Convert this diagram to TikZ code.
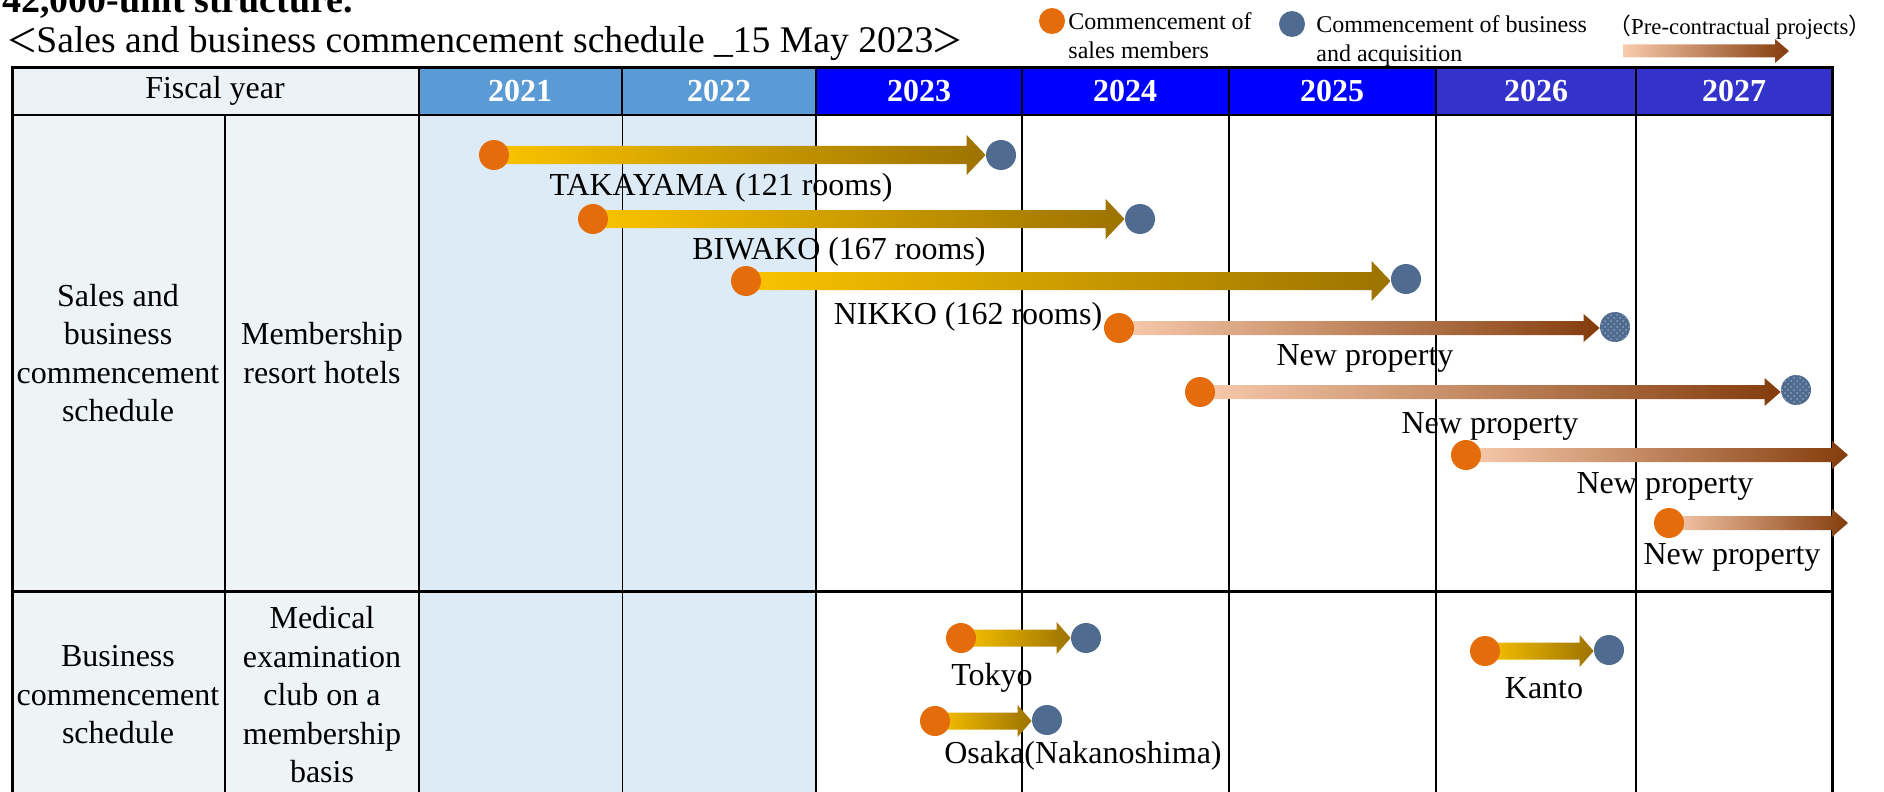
\documentclass[tikz,border=0pt]{standalone}
\usepackage{fontspec}
\setmainfont{Liberation Serif}
\newfontfamily\cjk{Noto Sans CJK SC}
\usetikzlibrary{calc,patterns}
\definecolor{fyfill}{HTML}{EDF2F6}
\definecolor{lblfill}{HTML}{EEF3F6}
\definecolor{oldhead}{HTML}{5B9BD5}
\definecolor{oldbody}{HTML}{DDEBF7}
\definecolor{curhead}{HTML}{0000FF}
\definecolor{futhead}{HTML}{3333CC}
\definecolor{dotorange}{HTML}{E46C0A}
\definecolor{dotblue}{HTML}{4F6B8F}
\definecolor{goldA}{HTML}{FAC300}
\definecolor{goldB}{HTML}{9C7300}
\definecolor{peachA}{HTML}{F8CBAD}
\definecolor{peachB}{HTML}{843C0C}
\pgfdeclarelayer{tablelayer}
\pgfdeclarelayer{arrowlayer}
\pgfsetlayers{tablelayer,arrowlayer,main}
\newcommand\grarrow[6]{%
  \path[#6] let \p1=(#1.center), \p2=(#2) in
    (\x1,{\y1+#3}) -- ({\x2-#5},{\y1+#3}) -- ({\x2-#5},{\y1+#4}) -- (\x2,\y1)
    -- ({\x2-#5},{\y1-#4}) -- ({\x2-#5},{\y1-#3}) -- (\x1,{\y1-#3}) -- cycle;}
\begin{document}
\begin{tikzpicture}[x=0.5pt,y=-0.5pt,
  lbl/.style={font=\fontsize{16}{19.25}\selectfont, inner sep=0, align=center},
  lgtxt/.style={font=\fontsize{12}{14.5}\selectfont, inner sep=0, align=left},
  yr/.style={font=\bfseries\fontsize{16}{19}\selectfont, text=white, inner sep=0},
  odot/.style={circle, fill=dotorange, minimum size=15pt, inner sep=0},
  bdot/.style={circle, fill=dotblue, minimum size=15pt, inner sep=0},
  hdot/.style={circle, fill=dotblue, minimum size=15pt, inner sep=0,
     postaction={pattern=crosshatch dots, pattern color=white!35!dotblue}},
  gold/.style={left color=goldA, right color=goldB},
  peach/.style={left color=peachA, right color=peachB},
  frame/.style={line width=1.5pt, black},
  inner/.style={line width=1pt, black},
  thin/.style={line width=0.5pt, black}]
\useasboundingbox (0,0) rectangle (1884,792);

% ---------- table ----------
\begin{pgfonlayer}{tablelayer}
\fill[fyfill] (12,68) rectangle (419,115);
\fill[oldhead] (419,68) rectangle (816,115);
\fill[curhead] (816,68) rectangle (1436,115);
\fill[futhead] (1436,68) rectangle (1832,115);
\fill[lblfill] (12,115) rectangle (419,792);
\fill[oldbody] (419,115) rectangle (816,792);
\draw[inner] (419,68) -- (419,792);
\draw[inner] (622,68) -- (622,115);
\draw[thin] (622,115) -- (622,792);
\foreach \xx in {816,1022,1229,1436,1636} \draw[inner] (\xx,68) -- (\xx,792);
\draw[inner] (225,115) -- (225,792);
\draw[inner] (12,115) -- (1832,115);
\draw[line width=1.5pt] (12,591) -- (1832,591);
\draw[frame] (12,792) -- (12,68) -- (1832,68) -- (1832,792);
\end{pgfonlayer}

% ---------- titles ----------
\node[anchor=base west, inner sep=0, font=\bfseries\fontsize{19}{22}\selectfont] (title) at (2,13) {42,000-unit structure.};
\node[anchor=base west, inner sep=0, font=\fontsize{18.8}{22}\selectfont] (sub) at (6,53) {{\cjk\fontsize{16}{20}\selectfont ＜}\kern-1pt Sales and business commencement schedule \_15 May 2023\kern-1pt{\cjk\fontsize{16}{20}\selectfont ＞}};

% ---------- legend ----------
\node[circle, fill=dotorange, minimum size=13pt, inner sep=0] (lg1) at (1052,21) {};
\node[lgtxt, anchor=west] (lgt1) at (1068,36) {Commencement of\\sales members};
\node[circle, fill=dotblue, minimum size=13pt, inner sep=0] (lg2) at (1292,24) {};
\node[lgtxt, anchor=west] (lgt2) at (1316,41) {Commencement of business\\and acquisition};
\node[lgtxt, anchor=west, font=\fontsize{11.4}{14}\selectfont] (lgt3) at (1608,27) {{\cjk （}Pre-contractual projects{\cjk ）}};
\coordinate (lgA) at (1623,51);
\coordinate (lgB) at (1789,51);

% ---------- header texts ----------
\node[lbl] (fy) at (215,91) {Fiscal year};
\node[yr] (y21) at (520,91) {2021};
\node[yr] (y22) at (719,91) {2022};
\node[yr] (y23) at (919,91) {2023};
\node[yr] (y24) at (1125,91) {2024};
\node[yr] (y25) at (1332,91) {2025};
\node[yr] (y26) at (1536,91) {2026};
\node[yr] (y27) at (1734,91) {2027};

% ---------- row labels ----------
\node[lbl] (r1a) at (118,353) {Sales and\\business\\commencement\\schedule};
\node[lbl] (r1b) at (322,353) {Membership\\resort hotels};
\node[lbl] (r2a) at (118,695) {Business\\commencement\\schedule};
\node[lbl] (r2b) at (322,695) {Medical\\examination\\club on a\\membership\\basis};

% ---------- dots ----------
\node[odot] (o1) at (494,155) {};
\node[bdot] (b1) at (1001,155) {};
\node[odot] (o2) at (593,219) {};
\node[bdot] (b2) at (1140,219) {};
\node[odot] (o3) at (746,281) {};
\node[bdot] (b3) at (1406,279) {};
\node[odot] (o4) at (1119,328) {};
\node[hdot] (b4) at (1615,327) {};
\node[odot] (o5) at (1200,392) {};
\node[hdot] (b5) at (1796,390) {};
\node[odot] (o6) at (1466,455) {};
\coordinate (e6) at (1848,455);
\node[odot] (o7) at (1669,523) {};
\coordinate (e7) at (1848,523);
\node[odot] (o8) at (961,638) {};
\node[bdot] (b8) at (1086,638) {};
\node[odot] (o9) at (935,721) {};
\node[bdot] (b9) at (1047,720) {};
\node[odot] (o10) at (1485,651) {};
\node[bdot] (b10) at (1609,650) {};

% ---------- arrows ----------
\begin{pgfonlayer}{arrowlayer}
\grarrow{o1}{b1.west}{4.5pt}{10pt}{9.5pt}{gold}
\grarrow{o2}{b2.west}{4.5pt}{10pt}{9.5pt}{gold}
\grarrow{o3}{b3.west}{4.5pt}{10pt}{9.5pt}{gold}
\grarrow{o4}{b4.west}{3.5pt}{7pt}{8pt}{peach}
\grarrow{o5}{b5.west}{3.5pt}{7pt}{8pt}{peach}
\grarrow{o6}{e6}{3.5pt}{7pt}{8pt}{peach}
\grarrow{o7}{e7}{3.5pt}{7pt}{8pt}{peach}
\grarrow{o8}{b8.west}{4.25pt}{8pt}{7pt}{gold}
\grarrow{o9}{b9.west}{4.25pt}{8pt}{7pt}{gold}
\grarrow{o10}{b10.west}{4.25pt}{8pt}{7pt}{gold}
\grarrow{lgA}{lgB}{3.25pt}{6pt}{7pt}{peach}
\end{pgfonlayer}

% ---------- arrow labels ----------
\node[lbl] (l1) at (721,188) {TAKAYAMA (121 rooms)};
\node[lbl] (l2) at (839,252) {BIWAKO (167 rooms)};
\node[lbl] (l3) at (968,317) {NIKKO (162 rooms)};
\node[lbl] (l4) at (1365,358) {New property};
\node[lbl] (l5) at (1490,426) {New property};
\node[lbl] (l6) at (1665,486) {New property};
\node[lbl] (l7) at (1732,557) {New property};
\node[lbl] (l8) at (992,678) {Tokyo};
\node[lbl] (l9) at (1083,756) {Osaka(Nakanoshima)};
\node[lbl] (l10) at (1544,688) {Kanto};
\end{tikzpicture}
\end{document}
